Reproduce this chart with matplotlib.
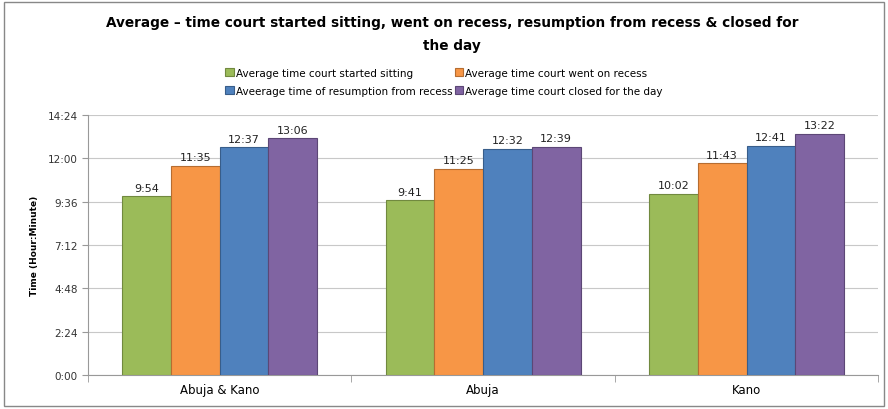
import numpy as np
import matplotlib.pyplot as plt
from matplotlib.ticker import FuncFormatter, MultipleLocator
from matplotlib.patches import Rectangle

categories = ['Abuja & Kano', 'Abuja', 'Kano']
series_names = ['Average time court started sitting',
                'Average time court went on recess',
                'Aveerage time of resumption from recess',
                'Average time court closed for the day']
started = ['9:54', '9:41', '10:02']
recess = ['11:35', '11:25', '11:43']
resumed = ['12:37', '12:32', '12:41']
closed = ['13:06', '12:39', '13:22']

colors = ['#9BBB59', '#F79646', '#4F81BD', '#8064A2']
edges = ['#71893F', '#B66D31', '#385D8A', '#5C4776']


def to_min(s):
    h, m = s.split(':')
    return int(h) * 60 + int(m)


def fmt(v, pos=None):
    v = int(round(v))
    return '%d:%02d' % (v // 60, v % 60)


fig = plt.figure(figsize=(8.88, 4.10), dpi=100)
fig.patches.append(Rectangle((0.005, 0.008), 0.99, 0.985, transform=fig.transFigure,
                             fill=False, edgecolor='#888888', lw=1))
ax = fig.add_axes([0.099, 0.083, 0.89, 0.634])

x = np.arange(len(categories))
w = 0.185
bars = []
for i, (vals, name) in enumerate(zip([started, recess, resumed, closed], series_names)):
    mins = [to_min(v) for v in vals]
    pos = x + (i - 1.5) * w
    b = ax.bar(pos, mins, w, color=colors[i], edgecolor=edges[i], lw=0.8, label=name, zorder=3)
    bars.append(b)
    for p, m, lab in zip(pos, mins, vals):
        ax.text(p, m + 12, lab, ha='center', va='bottom', fontsize=8, color='#222222')

ax.set_ylim(0, 864)
ax.set_xlim(-0.5, 2.5)
ax.yaxis.set_major_locator(MultipleLocator(144))
ax.yaxis.set_major_formatter(FuncFormatter(fmt))
ax.yaxis.grid(True, color='#C8C8C8', lw=0.8, zorder=0)
ax.set_xticks(x)
ax.set_xticklabels(categories, fontsize=8.5)
ax.set_xticks([-0.5, 0.5, 1.5, 2.5], minor=True)
ax.tick_params(axis='x', which='major', length=0, pad=6)
ax.tick_params(axis='x', which='minor', length=5, color='#999999')
ax.tick_params(axis='y', labelsize=7.5, length=4, color='#999999', labelcolor='#333333')
for s in ['top', 'right']:
    ax.spines[s].set_visible(False)
ax.spines['left'].set_color('#999999')
ax.spines['bottom'].set_color('#999999')
ax.set_ylabel('Time (Hour:Minute)', fontsize=6.5, fontweight='bold', labelpad=6)

fig.text(0.509, 0.96, 'Average \u2013 time court started sitting, went on recess, resumption from recess & closed for\nthe day',
         ha='center', va='top', fontsize=9.8, fontweight='bold', linespacing=1.75)
order = [0, 2, 1, 3]
fig.legend([bars[k] for k in order], [series_names[k] for k in order],
           loc='center', bbox_to_anchor=(0.5, 0.798), ncol=2, fontsize=7.5, frameon=False,
           handlelength=0.8, handleheight=0.8, handletextpad=0.2, columnspacing=0.2,
           labelspacing=0.75)

fig.savefig('out.png', dpi=100)
